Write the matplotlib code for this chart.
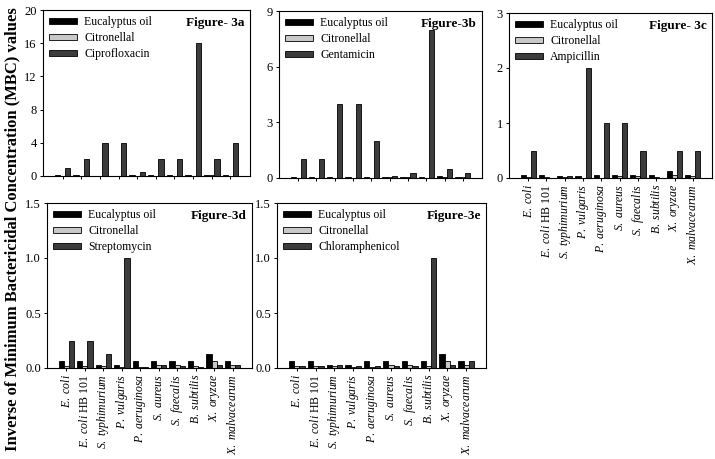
import matplotlib
matplotlib.use("Agg")
import matplotlib.pyplot as plt
from matplotlib.patches import Patch
import numpy as np

plt.rcParams['font.family'] = ['Liberation Serif', 'DejaVu Serif']
plt.rcParams['mathtext.fontset'] = 'custom'
plt.rcParams['mathtext.it'] = 'Liberation Serif:italic'
plt.rcParams['mathtext.rm'] = 'Liberation Serif'

strains = [r'$E.\ coli$', r'$E.\ coli$ HB 101', r'$S.\ typhimurium$', r'$P.\ vulgaris$',
           r'$P.\ aeruginosa$', r'$S.\ aureus$', r'$S.\ faecalis$', r'$B.\ subtilis$',
           r'$X.\ oryzae$', r'$X.\ malvacearum$']

eucalyptus = [0.0625, 0.0625, 0.03125, 0.03125, 0.0625, 0.0625, 0.0625, 0.0625, 0.125, 0.0625]
citronellal = [0.0156, 0.0156, 0.0156, 0.0078, 0.0078, 0.03125, 0.03125, 0.0156, 0.0625, 0.03125]

ciprofloxacin = [1, 2, 4, 4, 0.5, 2, 2, 16, 2, 4]
gentamicin = [1, 1, 4, 4, 2, 0.125, 0.25, 8, 0.5, 0.25]
ampicillin = [0.5, 0.0078, 0.03125, 2, 1, 1, 0.5, 0.0, 0.5, 0.5]
streptomycin = [0.25, 0.25, 0.125, 1.0, 0.0078, 0.03125, 0.0156, 0.0078, 0.03125, 0.03125]
chloramphenicol = [0.0156, 0.0156, 0.03125, 0.0156, 0.0156, 0.0156, 0.0156, 1.0, 0.03125, 0.0625]

panels = [
    dict(name='Figure- 3a', drug='Ciprofloxacin', vals=ciprofloxacin, ylim=20, ticks=[0, 4, 8, 12, 16, 20],
         fmt='{:g}', box=(43, 250, 10, 176), xlabels=False),
    dict(name='Figure-3b', drug='Gentamicin', vals=gentamicin, ylim=9, ticks=[0, 3, 6, 9],
         fmt='{:g}', box=(279, 482, 11, 178), xlabels=False),
    dict(name='Figure- 3c', drug='Ampicillin', vals=ampicillin, ylim=3, ticks=[0, 1, 2, 3],
         fmt='{:g}', box=(509, 712, 13, 178), xlabels=True),
    dict(name='Figure-3d', drug='Streptomycin', vals=streptomycin, ylim=1.5, ticks=[0, 0.5, 1.0, 1.5],
         fmt='{:.1f}', box=(47, 252, 203, 368), xlabels=True),
    dict(name='Figure-3e', drug='Chloramphenicol', vals=chloramphenicol, ylim=1.5, ticks=[0, 0.5, 1.0, 1.5],
         fmt='{:.1f}', box=(277, 486, 203, 368), xlabels=True),
]

W, H = 715, 459
fig = plt.figure(figsize=(W / 100, H / 100), dpi=100)

c_euc, c_cit, c_drug = '#000000', '#c8c8c8', '#3c3c3c'
bw = 0.28
x = np.arange(len(strains))

for p in panels:
    x0, x1, y0, y1 = p['box']
    ax = fig.add_axes([x0 / W, 1 - y1 / H, (x1 - x0) / W, (y1 - y0) / H])
    ax.bar(x - bw, eucalyptus, bw, color=c_euc, edgecolor='black', linewidth=0.6)
    ax.bar(x, citronellal, bw, color=c_cit, edgecolor='black', linewidth=0.6)
    ax.bar(x + bw, p['vals'], bw, color=c_drug, edgecolor='black', linewidth=0.6)
    ax.set_xlim(-1.05, len(strains) + 0.05)
    ax.set_ylim(0, p['ylim'])
    ax.set_yticks(p['ticks'])
    ax.set_yticklabels([p['fmt'].format(t) for t in p['ticks']], fontsize=9)
    ax.set_xticks(x)
    if p['xlabels']:
        ax.set_xticklabels(strains, rotation=90, fontsize=8.5)
    else:
        ax.set_xticklabels([])
    ax.tick_params(axis='both', direction='out', length=2.5, width=0.7, pad=2)
    for s in ax.spines.values():
        s.set_linewidth(0.8)
    handles = [Patch(facecolor=c_euc, edgecolor='black', linewidth=0.6),
               Patch(facecolor=c_cit, edgecolor='black', linewidth=0.6),
               Patch(facecolor=c_drug, edgecolor='black', linewidth=0.6)]
    ax.legend(handles, ['Eucalyptus oil', 'Citronellal', p['drug']], loc='upper left',
              frameon=False, fontsize=8.5, handlelength=2.4, handleheight=0.45,
              handletextpad=0.6, labelspacing=0.35, borderaxespad=0.3, borderpad=0.2)
    ax.text(0.975, 0.96, p['name'], transform=ax.transAxes, ha='right', va='top',
            fontsize=9.5, fontweight='bold')

fig.text(12 / W, 0.5, 'Inverse of Minimum Bactericidal Concentration (MBC) values',
         rotation=90, ha='center', va='center', fontsize=12, fontweight='bold')

fig.savefig('out.png', dpi=100)
